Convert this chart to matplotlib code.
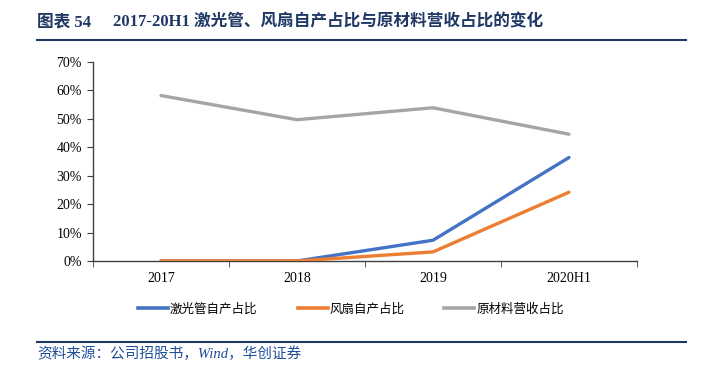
import matplotlib.pyplot as plt
from matplotlib.lines import Line2D
import numpy as np

categories = ["2017", "2018", "2019", "2020H1"]
laser_share = [0.0, 0.0, 7.3, 36.4]
fan_share = [0.0, 0.0, 3.2, 24.2]
material_share = [58.2, 49.7, 53.9, 44.6]
series_names = ["激光管自产占比", "风扇自产占比", "原材料营收占比"]
y_ticks = [0, 10, 20, 30, 40, 50, 60, 70]

NAVY = "#1F3864"
colors = ["#4472C4", "#ED7D31", "#A5A5A5"]

plt.rcParams["font.family"] = ["Liberation Serif", "Noto Sans CJK SC"]

fig = plt.figure(figsize=(7.07, 3.70), dpi=100)
ax = fig.add_axes([93 / 707, 1 - 261 / 370, 544 / 707, 199 / 370])

x = np.arange(len(categories))
for vals, col in zip([laser_share, fan_share, material_share], colors):
    ax.plot(x, vals, color=col, lw=2.4, solid_capstyle="round", zorder=3)

ax.set_xlim(-0.5, len(categories) - 0.5)
ax.set_ylim(0, 70)
ax.set_yticks(y_ticks)
ax.set_yticklabels([f"{v}%" for v in y_ticks])
ax.set_xticks(x)
ax.set_xticklabels(categories)
ax.set_xticks(np.arange(-0.5, len(categories)), minor=True)
ax.tick_params(axis="x", which="major", length=0, pad=8, labelsize=10)
ax.tick_params(axis="x", which="minor", length=4, direction="out", color="#404040")
ax.tick_params(axis="y", length=4, direction="out", color="#404040", labelsize=10, pad=4)

for side in ["top", "right"]:
    ax.spines[side].set_visible(False)
for side in ["left", "bottom"]:
    ax.spines[side].set_color("#404040")
    ax.spines[side].set_linewidth(1.0)

# legend
handles = [Line2D([0], [0], color=c, lw=2.6) for c in colors]
fig.legend(handles, series_names, loc="center", bbox_to_anchor=(351 / 707, 1 - 309 / 370),
           ncol=3, frameon=False, handlelength=2.4, handletextpad=0.15, columnspacing=3.2,
           prop={"family": ["Noto Sans CJK SC"], "size": 9})

# title and rules
fig.text(37 / 707, 1 - 22 / 370, "图表 54", fontsize=12, fontweight="bold",
         color=NAVY, va="center", ha="left")
fig.text(113 / 707, 1 - 22 / 370, "2017-20H1 激光管、风扇自产占比与原材料营收占比的变化",
         fontsize=12, fontweight="bold", color=NAVY, va="center", ha="left")
fig.add_artist(Line2D([37 / 707, 686 / 707], [1 - 40 / 370] * 2, color=NAVY, lw=1.5))
fig.add_artist(Line2D([37 / 707, 686 / 707], [1 - 342 / 370] * 2, color=NAVY, lw=1.5))
fig.text(37 / 707, 1 - 354 / 370, "资料来源：公司招股书，Wind，华创证券",
         fontsize=10.5, style="italic", color="#1F4E9A", va="center", ha="left")

fig.savefig("out.png", dpi=100)
